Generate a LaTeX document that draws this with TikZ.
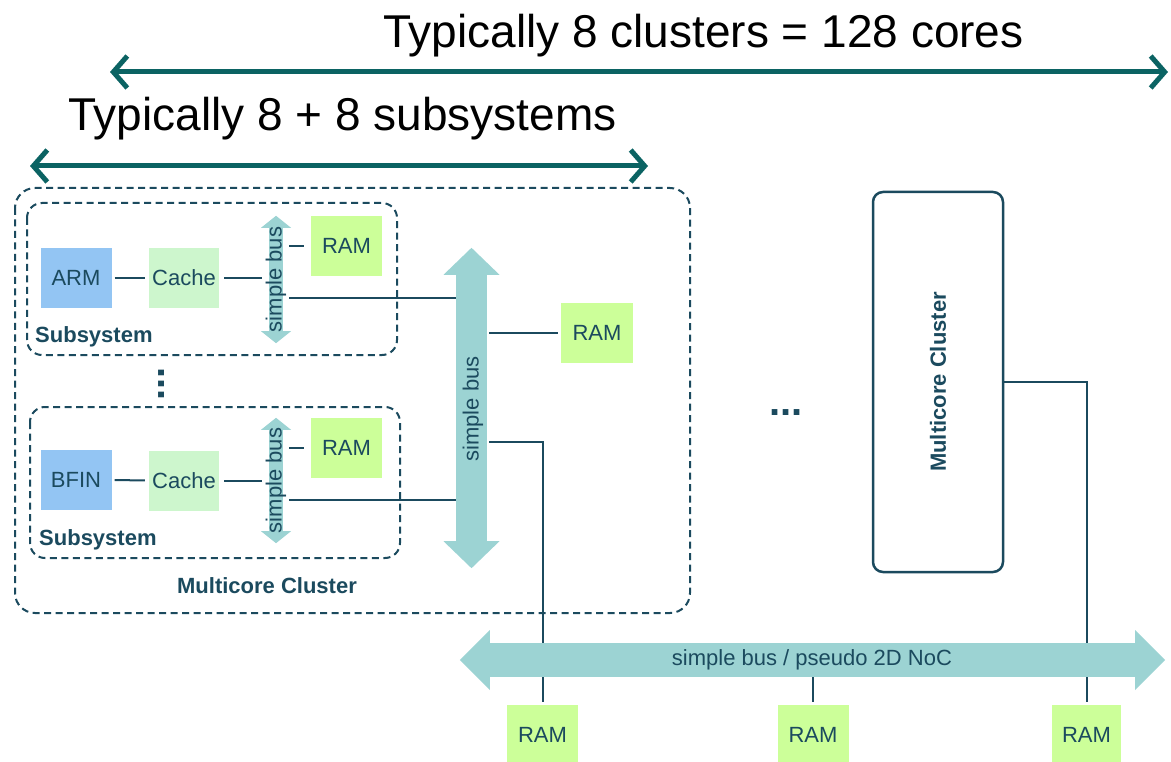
\documentclass[tikz,border=0pt]{standalone}
\usepackage{fontspec}
\setmainfont{Liberation Sans}
\usepackage{tikz}
\usetikzlibrary{arrows.meta}

\definecolor{linecol}{HTML}{1B4A5E}
\definecolor{spancol}{HTML}{0B6363}
\definecolor{busfill}{HTML}{9CD3D3}
\definecolor{armfill}{HTML}{93C5F3}
\definecolor{cachefill}{HTML}{CDF6CD}
\definecolor{ramfill}{HTML}{CCFF99}

\newcommand{\labelfont}{\fontsize{22}{24}\selectfont}
\newcommand{\titlefont}{\fontsize{46}{50}\selectfont}

% heads of a bus arrow: node, half width, head length
\newcommand{\vbusheads}[3]{%
  \fill[busfill] ([xshift=-#2]#1.north) -- ([yshift=#3]#1.north) -- ([xshift=#2]#1.north) -- cycle;
  \fill[busfill] ([xshift=-#2]#1.south) -- ([yshift=-#3]#1.south) -- ([xshift=#2]#1.south) -- cycle;}
\newcommand{\hbusheads}[3]{%
  \fill[busfill] ([yshift=#2]#1.west) -- ([xshift=-#3]#1.west) -- ([yshift=-#2]#1.west) -- cycle;
  \fill[busfill] ([yshift=#2]#1.east) -- ([xshift=#3]#1.east) -- ([yshift=-#2]#1.east) -- cycle;}

\tikzset{
  wire/.style={draw=linecol, line width=2pt},
  dashbox/.style={draw=linecol, line width=2pt, dash pattern=on 7pt off 4.5pt, rounded corners=#1},
  block/.style={inner sep=0pt, minimum width=71pt, minimum height=60pt, text=linecol, font=\labelfont},
  armbox/.style={block, fill=armfill},
  cachebox/.style={block, fill=cachefill},
  rambox/.style={block, fill=ramfill},
  shaft/.style={fill=busfill, inner sep=0pt},
  bustext/.style={text=linecol, font=\labelfont, inner sep=0pt},
  boldtext/.style={text=linecol, font=\labelfont\bfseries, inner sep=0pt},
  spanarrow/.style={draw=spancol, line width=5pt,
    {Straight Barb[length=14pt,width=32pt]}-{Straight Barb[length=14pt,width=32pt]}},
  headline/.style={font=\titlefont, inner sep=0pt, anchor=base west},
}

\begin{document}
\begin{tikzpicture}[x=1pt, y=-1pt]

    \useasboundingbox (0,0) rectangle (1171,762);

    % ==========================================
    % Spans on top
    % ==========================================
    \node[headline] (cores) at (383,48) {Typically 8 clusters = 128 cores};
    \coordinate (coresL) at (110,72);
    \coordinate (coresR) at (1168,72);
    \draw[spanarrow] (coresL) -- (coresR);

    \node[headline] (subs) at (68,131) {Typically 8 + 8 subsystems};
    \coordinate (subsL) at (30,166);
    \coordinate (subsR) at (648,166);
    \draw[spanarrow] (subsL) -- (subsR);

    % ==========================================
    % Cluster frame and its bus
    % ==========================================
    \draw[dashbox=20pt] (15,188) rectangle (690,613);
    \node[boldtext] (clusterlbl) at (267,586) {Multicore Cluster};

    \node[shaft, minimum width=31pt, minimum height=266pt] (bbus) at (471.5,408) {};
    \vbusheads{bbus}{28pt}{27pt}
    \node[bustext] (bbustext) at (473,409) {\rotatebox{90}{simple bus}};

    \node[rambox, minimum width=72pt] (ramM) at (597,333) {RAM};
    \draw[wire, shorten <=2pt, shorten >=3pt] (bbus.east |- ramM) -- (ramM);

    % ==========================================
    % Subsystem A
    % ==========================================
    \draw[dashbox=15pt] (27,203) rectangle (397,355);
    \node[boldtext, anchor=base west] (subA) at (35,342) {Subsystem};
    \node[armbox] (armA) at (76,278) {ARM};
    \node[cachebox, minimum width=70pt] (cacheA) at (184,278) {Cache};
    \node[rambox] (ramA) at (346.5,246) {RAM};
    \node[shaft, minimum width=14pt, minimum height=103pt] (sbusA) at (276,279.5) {};
    \vbusheads{sbusA}{15pt}{12pt}
    \node[bustext] (sbusAtext) at (sbusA) {\rotatebox{90}{simple bus}};

    \draw[wire, shorten <=3pt, shorten >=4pt] (armA) -- (cacheA);
    \draw[wire, shorten <=5pt, shorten >=7pt] (cacheA) -- (cacheA -| sbusA.west);
    \draw[wire, shorten <=6pt, shorten >=7pt] (sbusA.east |- ramA) -- (ramA);
    \draw[wire, shorten <=6pt] ([yshift=-18.5pt]sbusA.east) -- ([yshift=-18.5pt]sbusA.east -| bbus.west);

    \node[text=linecol, font=\fontsize{40}{40}\selectfont\bfseries, inner sep=0pt] (vdots) at (162,384) {\rotatebox{90}{...}};

    % ==========================================
    % Subsystem B
    % ==========================================
    \draw[dashbox=15pt] (30,407) rectangle (400,558);
    \node[boldtext, anchor=base west] (subB) at (39,545) {Subsystem};
    \node[armbox] (armB) at (76,480) {BFIN};
    \node[cachebox, minimum width=70pt] (cacheB) at (184,480.5) {Cache};
    \node[rambox] (ramB) at (346.5,448) {RAM};
    \node[shaft, minimum width=14pt, minimum height=101pt] (sbusB) at (276,480.5) {};
    \vbusheads{sbusB}{15pt}{12pt}
    \node[bustext] (sbusBtext) at (sbusB) {\rotatebox{90}{simple bus}};

    \draw[wire, shorten <=3pt, shorten >=4pt] (armB) -- (cacheB);
    \draw[wire, shorten <=5pt, shorten >=7pt] (cacheB) -- (cacheB -| sbusB.west);
    \draw[wire, shorten <=6pt, shorten >=7pt] (sbusB.east |- ramB) -- (ramB);
    \draw[wire, shorten <=6pt] ([yshift=-19.5pt]sbusB.east) -- ([yshift=-19.5pt]sbusB.east -| bbus.west);

    % ==========================================
    % Other clusters and the NoC
    % ==========================================
    \node[text=linecol, font=\fontsize{40}{40}\selectfont\bfseries, inner sep=0pt] (hdots) at (786,413) {...};

    \node[draw=linecol, line width=2.5pt, rounded corners=10pt, minimum width=130pt, minimum height=380pt,
          inner sep=0pt, text=linecol, font=\labelfont\bfseries] (mcB) at (938,382) {\rotatebox{90}{Multicore Cluster}};

    \node[shaft, minimum width=645pt, minimum height=34pt] (nbus) at (812.5,660) {};
    \hbusheads{nbus}{30pt}{30pt}
    \node[bustext] (nbustext) at (812,660) {simple bus / pseudo 2D NoC};

    \node[rambox] (ram1) at (542.5,734.5) {RAM};
    \node[rambox] (ram2) at (813,734.5) {RAM};
    \node[rambox, minimum width=69pt] (ram3) at (1086.5,734.5) {RAM};

    \draw[wire, shorten <=2pt] ([yshift=-34pt]bbus.east) -| (ram1 |- nbus.north);
    \draw[wire] (mcB.east) -| (ram3 |- nbus.north);
    \draw[wire, shorten >=2pt] (ram1 |- nbus.south) -- (ram1);
    \draw[wire, shorten >=2pt] (ram2 |- nbus.south) -- (ram2);
    \draw[wire, shorten >=2pt] (ram3 |- nbus.south) -- (ram3);

\end{tikzpicture}
\end{document}
